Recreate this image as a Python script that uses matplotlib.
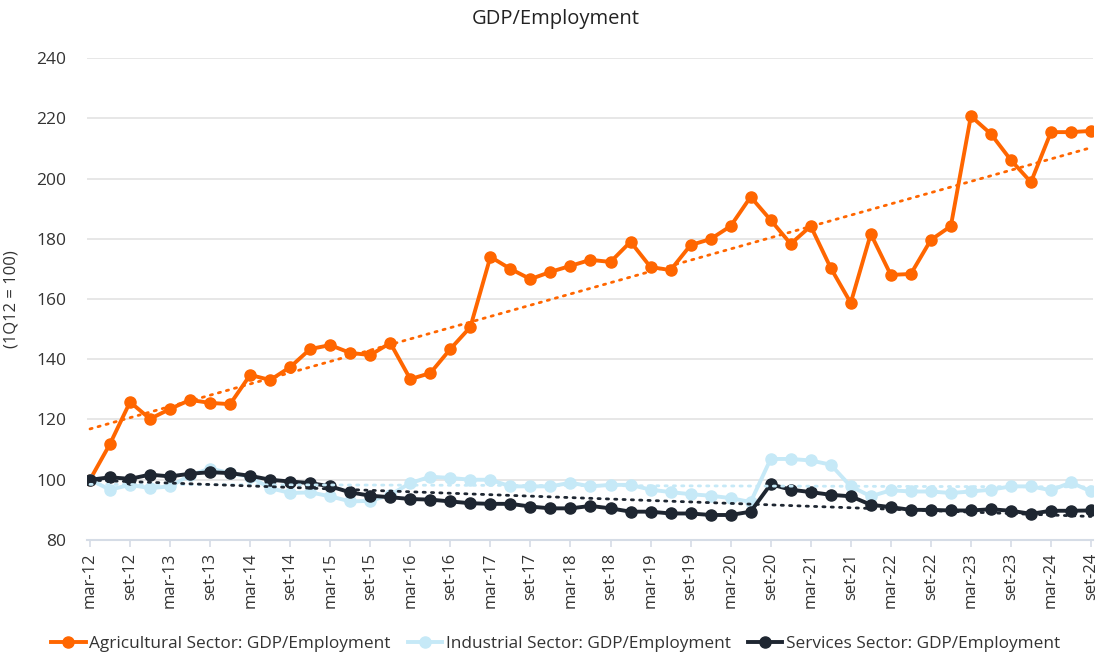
import numpy as np
import matplotlib.pyplot as plt

plt.rcParams['font.family'] = ['Open Sans', 'DejaVu Sans']

# quarterly, 1Q12 to 3Q24 (1Q12 = 100)
quarters = []
for yr in range(12, 25):
    for m in ['mar', 'jun', 'set', 'dez']:
        quarters.append(f'{m}-{yr}')
quarters = quarters[:51]

agri = [100.0, 111.9, 125.8, 120.2, 123.5, 126.5, 125.5, 125.1, 134.8, 133.1,
        137.4, 143.4, 144.7, 142.1, 141.4, 145.4, 133.4, 135.4, 143.4, 150.7,
        174.0, 170.0, 166.6, 169.0, 171.0, 173.0, 172.3, 179.0, 170.6, 169.6,
        177.9, 179.9, 184.2, 193.9, 186.2, 178.3, 184.2, 170.3, 158.7, 181.6,
        168.0, 168.3, 179.6, 184.2, 220.7, 214.8, 206.1, 198.8, 215.4, 215.4,
        215.8]
indus = [100.0, 96.7, 98.3, 97.2, 97.8, 101.5, 103.7, 102.2, 101.0, 97.2,
         95.6, 95.8, 94.5, 92.8, 93.0, 95.0, 98.9, 101.0, 100.6, 100.0,
         100.0, 97.8, 97.8, 97.8, 99.0, 97.8, 98.3, 98.3, 96.7, 95.9,
         95.2, 94.7, 93.9, 92.6, 106.9, 106.9, 106.4, 105.0, 97.8, 94.5,
         96.5, 96.1, 96.1, 95.6, 96.1, 96.7, 97.8, 97.8, 96.5, 99.1,
         96.1]
serv = [100.0, 100.8, 100.3, 101.7, 101.1, 102.0, 102.5, 102.2, 101.3, 100.0,
        99.4, 98.9, 97.8, 95.8, 94.7, 94.2, 93.6, 93.4, 92.8, 92.2,
        92.0, 92.0, 91.1, 90.5, 90.5, 91.3, 90.5, 89.4, 89.4, 88.8,
        88.8, 88.3, 88.3, 89.4, 98.5, 96.7, 95.9, 95.0, 94.5, 91.7,
        90.9, 90.0, 90.0, 89.8, 89.8, 90.2, 89.7, 88.7, 89.7, 89.7,
        89.8]

labels = ['Agricultural Sector: GDP/Employment', 'Industrial Sector: GDP/Employment',
          'Services Sector: GDP/Employment']
colors = ['#FF6600', '#C6E9F7', '#1E2631']

x = np.arange(len(quarters))

fig = plt.figure(figsize=(11.11, 6.57), dpi=100)
ax = fig.add_axes([0.0783, 0.1781, 0.9055, 0.7336])

for ys, lab, c in zip([agri, indus, serv], labels, colors):
    ax.plot(x, ys, color=c, lw=2.8, marker='o', ms=8, label=lab, zorder=3)
    # linear trendline
    k, b = np.polyfit(x, ys, 1)
    ax.plot(x, k * x + b, color=c, lw=2.0, ls=(0, (0.8, 2.2)),
            dash_capstyle='round', zorder=4)

ax.set_xlim(-0.15, 50.1)
ax.set_ylim(80, 240)
ax.set_yticks(range(80, 241, 20))
ax.set_xticks(x[::2])
ax.set_xticklabels(quarters[::2], rotation=90, fontsize=12, color='#333333')
ax.tick_params(axis='y', length=0, labelsize=12.5, labelcolor='#333333', pad=15)
ax.tick_params(axis='x', length=5, color='#D5DCE6', width=1.2, pad=4)
ax.grid(axis='y', color='#E3E3E3', lw=1.2)
ax.set_axisbelow(True)
for s in ['top', 'right', 'left']:
    ax.spines[s].set_visible(False)
ax.spines['bottom'].set_color('#D5DCE6')
ax.spines['bottom'].set_linewidth(1.5)

ax.set_ylabel('(1Q12 = 100)', fontsize=12, color='#333333', labelpad=12)
fig.text(0.5, 0.971, 'GDP/Employment', ha='center', va='center', fontsize=14.5, color='#222222')

fig.legend(loc='center', bbox_to_anchor=(0.5, 0.02), ncol=3, frameon=False,
           fontsize=12.4, handlelength=2.0, handletextpad=0.2, columnspacing=1.0,
           labelcolor='#333333')

fig.savefig('out.png', dpi=100)
